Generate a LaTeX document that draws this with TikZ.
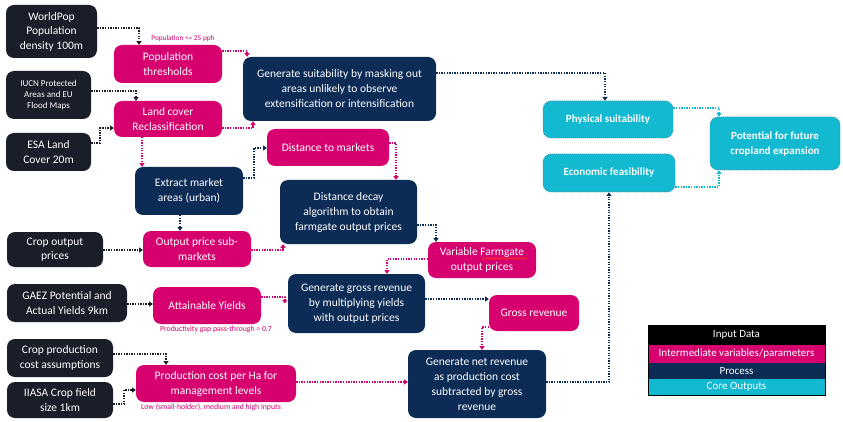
\documentclass[tikz,border=0pt]{standalone}
\usepackage{fontspec}
\setmainfont{Carlito}
\usetikzlibrary{arrows.meta,calc}
\definecolor{inblack}{HTML}{1A1E28}
\definecolor{pinkc}{HTML}{D6006E}
\definecolor{navyc}{HTML}{0C2C56}
\definecolor{cyanc}{HTML}{12B9D1}
\definecolor{cyandk}{HTML}{3C8FA8}
\definecolor{spellred}{HTML}{FF2A2A}
\begin{document}
\begin{tikzpicture}[x=1pt,y=-1pt,
  box/.style={rounded corners=8pt, align=center, text=white, inner sep=1pt,
    font=\fontsize{11.5}{15}\selectfont},
  inbox/.style={box, fill=inblack, font=\fontsize{11.5}{14.5}\selectfont},
  midbox/.style={box, fill=pinkc},
  procbox/.style={box, fill=navyc},
  outbox/.style={box, fill=cyanc, draw=cyandk, dash pattern=on 0.9pt off 1.1pt, line width=0.8pt,
    font=\bfseries\fontsize{11}{15}\selectfont},
  lbl/.style={text=pinkc, inner sep=0pt, font=\fontsize{7.8}{8}\selectfont},
  leg/.style={text=white, inner sep=0pt, minimum width=177pt, font=\fontsize{11}{11}\selectfont},
  conn/.style={dash pattern=on 1.3pt off 1.3pt, line width=1.4pt,
    -{Triangle[length=3.6pt,width=5pt]}},
  cblk/.style={conn, draw=inblack},
  cpnk/.style={conn, draw=pinkc},
  cnav/.style={conn, draw=navyc},
  ccyn/.style={conn, draw=cyanc}]
\useasboundingbox (0,0) rectangle (843,422);

% Input data
\node[inbox, minimum width=91pt, minimum height=53pt] (wp) at (51.5,31.5) {WorldPop\\Population\\density 100m};
\node[inbox, font=\fontsize{9}{11}\selectfont, minimum width=85pt, minimum height=48pt] (iucn) at (48.5,95) {IUCN Protected\\Areas and EU\\Flood Maps};
\node[inbox, minimum width=85pt, minimum height=38pt] (esa) at (48.5,152) {ESA Land\\Cover 20m};
\node[inbox, minimum width=96pt, minimum height=35pt] (cop) at (55,249.5) {Crop output\\prices};
\node[inbox, minimum width=120pt, minimum height=38pt] (gaez) at (67,303) {GAEZ Potential and\\Actual Yields 9km};
\node[inbox, minimum width=106pt, minimum height=38pt] (cpc) at (60,358) {Crop production\\cost assumptions};
\node[inbox, minimum width=106pt, minimum height=36pt] (iiasa) at (60,400) {IIASA Crop field\\size 1km};

% Intermediate
\node[midbox, minimum width=108pt, minimum height=38pt] (pt) at (168,64) {Population\\thresholds};
\node[midbox, minimum width=108pt, minimum height=36pt] (lc) at (168,119) {Land cover\\Reclassification};
\node[midbox, minimum width=122pt, minimum height=37pt] (dm) at (328,147.5) {Distance to markets};
\node[midbox, minimum width=108pt, minimum height=36pt] (ops) at (197,249) {Output price sub-\\markets};
\node[midbox, minimum width=108pt, minimum height=36pt] (vfp) at (482,260) {Variable Farmgate\\output prices};
\node[midbox, minimum width=108pt, minimum height=37pt] (ay) at (207,305.5) {Attainable Yields};
\node[midbox, minimum width=90pt, minimum height=36pt] (gr) at (534,313) {Gross revenue};
\node[midbox, minimum width=160pt, minimum height=37pt] (pc) at (216,383.5) {Production cost per Ha for\\management levels};

% Process
\node[procbox, font=\fontsize{11.5}{15}\selectfont, minimum width=193pt, minimum height=64pt] (gs) at (339.5,89) {Generate suitability by masking out\\areas unlikely to observe\\extensification or intensification};
\node[procbox, minimum width=108pt, minimum height=48pt] (ema) at (189,191) {Extract market\\areas (urban)};
\node[procbox, minimum width=137pt, minimum height=64pt] (dd) at (348.5,212) {Distance decay\\algorithm to obtain\\farmgate output prices};
\node[procbox, minimum width=137pt, minimum height=59pt] (ggr) at (356.5,303.5) {Generate gross revenue\\by multiplying yields\\with output prices};
\node[procbox, minimum width=138pt, minimum height=68pt] (gnr) at (477,384) {Generate net revenue\\as production cost\\subtracted by gross\\revenue};

% Core outputs
\node[outbox, minimum width=130pt, minimum height=37pt] (ps) at (608,119.5) {Physical suitability};
\node[outbox, minimum width=132pt, minimum height=38pt] (ef) at (609,173) {Economic feasibility};
\node[outbox, minimum width=130pt, minimum height=53pt] (pfc) at (775,143.5) {Potential for future\\cropland expansion};

% labels
\node[lbl, font=\fontsize{7.3}{8}\selectfont] (l1) at (183,39) {Population <= 25 pph};
\node[lbl] (l2) at (216,329) {Productivity gap pass-through = 0.7};
\node[lbl] (l3) at (211,407) {Low (small-holder), medium and high inputs};

% spell-check squiggle under "Farmgate"
\draw[spellred, line width=0.8pt, domain=0:45, samples=90, smooth, variable=\t]
  plot ({482+\t}, {258.5+0.9*sin(\t*120)});

% connectors
\draw[cblk] (wp.east |- 0,28) -| (pt.north -| 139,0);
\draw[cblk] (iucn.east |- 0,91) -| (lc.north -| 136,0);
\draw[cblk] (esa.east |- 0,143) -- (100,143) -- (100,128) -- (lc.west |- 0,128);
\draw[cpnk] (pt.east |- 0,51) -| (gs.north -| 247,0);
\draw[cpnk] (lc.east |- 0,128) -| (gs.south -| 253,0);
\draw[cpnk] (lc.south -| 142,0) -- (ema.north -| 142,0);
\draw[cnav] (ema.east |- 0,178) -- (254,178) -- (254,148) -- (dm.west |- 0,148);
\draw[cpnk] (dm.east |- 0,143) -| (dd.north -| 396,0);
\draw[cnav] (ema.south -| 180,0) -- (ops.north -| 180,0);
\draw[cblk] (cop.east |- 0,250) -- (ops.west |- 0,250);
\draw[cpnk] (ops.east |- 0,250) -| (dd.south -| 283,0);
\draw[cnav] (dd.east |- 0,225) -| (vfp.north -| 436,0);
\draw[cpnk] (vfp.west |- 0,259) -| (ggr.north -| 387,0);
\draw[cblk] (gaez.east |- 0,304) -- (ay.west |- 0,304);
\draw[cpnk] (ay.east |- 0,297) -| ($(ggr.west)+(-3,0)$);
\draw[cnav] (ggr.east |- 0,299) -- (gr.west |- 0,299);
\draw[cpnk] (gr.west |- 0,327) -| (gnr.north -| 482,0);
\draw[cblk] (cpc.east |- 0,354) -| (pc.north -| 166,0);
\draw[cblk] (iiasa.east |- 0,404) -- (124,404) -- (124,390) -- (pc.west |- 0,390);
\draw[cpnk] (pc.east |- 0,382) -- (gnr.west |- 0,382);
\draw[cnav] (gnr.east |- 0,382) -| (ef.south -| 609,0);
\draw[cnav] (gs.east |- 0,73) -| (ps.north -| 605,0);
\draw[ccyn] (ps.east |- 0,108) -| (pfc.north -| 719,0);
\draw[ccyn] (ef.east |- 0,187) -| (pfc.south -| 719,0);

% legend
\node[leg, fill=black, minimum height=20pt] (lg1) at (736.5,335) {Input Data};
\node[leg, fill=pinkc, minimum height=18pt] (lg2) at (736.5,354) {Intermediate variables/parameters};
\node[leg, fill=navyc, minimum height=16pt] (lg3) at (736.5,371) {Process};
\node[leg, fill=cyanc, minimum height=16pt] (lg4) at (736.5,387) {Core Outputs};
\draw[black, line width=0.6pt] (lg1.north west) rectangle (lg4.south east);
\end{tikzpicture}
\end{document}
